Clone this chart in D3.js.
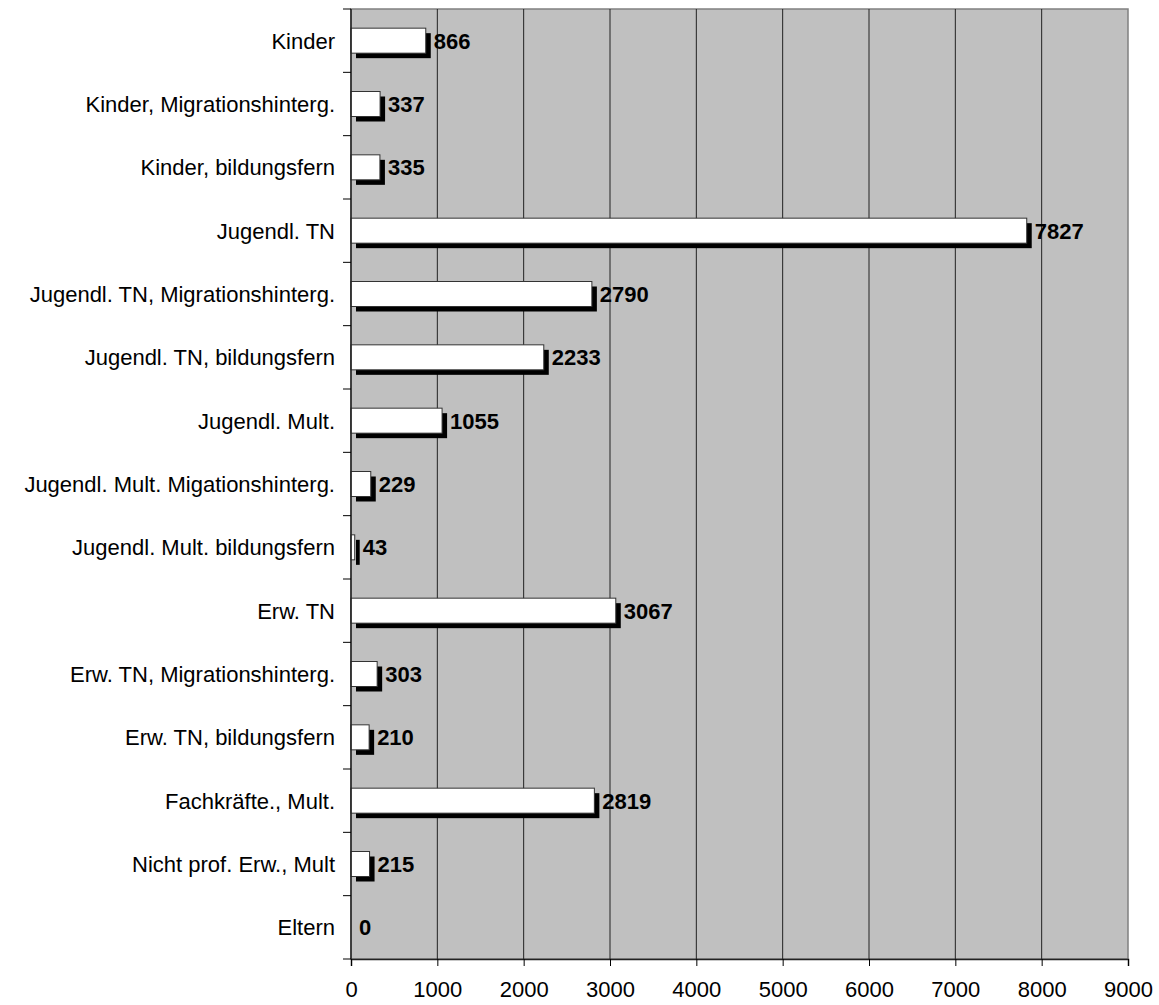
<!DOCTYPE html>
<html>
<head>
<meta charset="utf-8">
<script src="https://cdn.jsdelivr.net/npm/d3@7"></script>
<style>
  body { margin: 0; background: #fff; }
  svg { display: block; font-family: Arial, "Liberation Sans", sans-serif; }
</style>
</head>
<body>
<div id="chart"></div>
<script>
// categories, top to bottom
var categories = [
  "Kinder",
  "Kinder, Migrationshinterg.",
  "Kinder, bildungsfern",
  "Jugendl. TN",
  "Jugendl. TN, Migrationshinterg.",
  "Jugendl. TN, bildungsfern",
  "Jugendl. Mult.",
  "Jugendl. Mult. Migationshinterg.",
  "Jugendl. Mult. bildungsfern",
  "Erw. TN",
  "Erw. TN, Migrationshinterg.",
  "Erw. TN, bildungsfern",
  "Fachkräfte., Mult.",
  "Nicht prof. Erw., Mult",
  "Eltern"
];
var values = [866, 337, 335, 7827, 2790, 2233, 1055, 229, 43, 3067, 303, 210, 2819, 215, 0];
var xTicks = [0, 1000, 2000, 3000, 4000, 5000, 6000, 7000, 8000, 9000];

var width = 1159,
    height = 1005;
var margin = {top: 9, right: 31, bottom: 46, left: 351};
var w = width - margin.left - margin.right,
    h = height - margin.top - margin.bottom;

var svg = d3.select("#chart")
  .append("svg")
    .attr("width", width)
    .attr("height", height)
  .append("g")
    .attr("transform", "translate(" + margin.left + "," + margin.top + ")");

var x = d3.scaleLinear().domain([0, 9000]).range([0, w]);
var y = d3.scaleBand().domain(categories).range([0, h]);

// plot background
svg.append("rect")
  .attr("width", w).attr("height", h)
  .attr("fill", "#c0c0c0")
  .attr("stroke", "#808080")
  .attr("stroke-width", 1.5);

// vertical gridlines
svg.append("g")
  .selectAll("line")
  .data(xTicks.slice(1, -1))
  .enter()
  .append("line")
    .attr("x1", function(d) { return x(d); })
    .attr("x2", function(d) { return x(d); })
    .attr("y1", 0).attr("y2", h)
    .attr("stroke", "#222")
    .attr("stroke-width", 1);

// bars: shadow first, then white bar
var barH = 25, off = 5;
var bars = svg.append("g").selectAll("g")
  .data(values)
  .enter()
  .append("g")
    .attr("transform", function(d, i) {
      return "translate(0," + (y(categories[i]) + (y.bandwidth() - barH) / 2) + ")";
    });

bars.filter(function(d) { return d > 0; })
  .append("rect")
    .attr("x", off)
    .attr("y", off)
    .attr("width", function(d) { return x(d); })
    .attr("height", barH)
    .attr("fill", "#000");

bars.filter(function(d) { return d > 0; })
  .append("rect")
    .attr("x", 0)
    .attr("y", 0)
    .attr("width", function(d) { return x(d); })
    .attr("height", barH)
    .attr("fill", "#fff")
    .attr("stroke", "#333")
    .attr("stroke-width", 1);

bars.append("text")
  .attr("x", function(d) { return x(d) + (d > 0 ? off + 3 : 8); })
  .attr("y", barH / 2)
  .attr("dy", "0.36em")
  .attr("font-size", "22px")
  .attr("font-weight", "bold")
  .attr("fill", "#000")
  .text(function(d) { return d; });

// X axis
var xAxis = d3.axisBottom(x)
  .tickValues(xTicks)
  .tickFormat(d3.format("d"))
  .tickSize(7)
  .tickPadding(15);
var gx = svg.append("g")
  .attr("transform", "translate(0," + h + ")")
  .call(xAxis);
gx.select(".domain").attr("stroke", "#222").attr("stroke-width", 1.5);
gx.selectAll(".tick line").attr("stroke", "#000");
gx.selectAll("text")
  .attr("font-size", "22px")
  .attr("fill", "#000")
  .style("font-family", "Arial, 'Liberation Sans', sans-serif");

// Y axis: ticks at category boundaries
svg.append("line")
  .attr("x1", 0).attr("x2", 0).attr("y1", 0).attr("y2", h)
  .attr("stroke", "#222").attr("stroke-width", 1.5);
svg.append("g").selectAll("line")
  .data(d3.range(categories.length + 1))
  .enter()
  .append("line")
    .attr("x1", -8).attr("x2", 0)
    .attr("y1", function(i) { return i * y.step(); })
    .attr("y2", function(i) { return i * y.step(); })
    .attr("stroke", "#000");

svg.append("g").selectAll("text")
  .data(categories)
  .enter()
  .append("text")
    .attr("x", -16)
    .attr("y", function(d) { return y(d) + y.bandwidth() / 2; })
    .attr("dy", "0.36em")
    .attr("text-anchor", "end")
    .attr("font-size", "22px")
    .attr("fill", "#000")
    .text(function(d) { return d; });
</script>
</body>
</html>
